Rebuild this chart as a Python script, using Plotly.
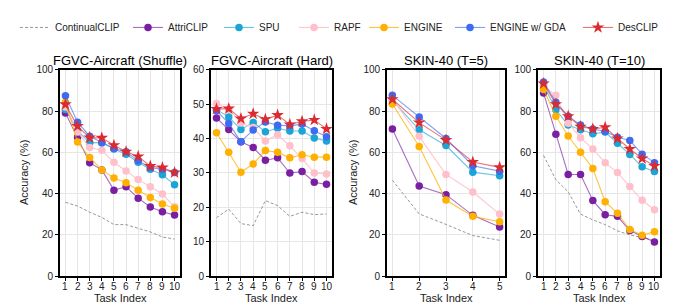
import plotly.graph_objects as go

# ---------------- data ----------------
tasks10 = [1, 2, 3, 4, 5, 6, 7, 8, 9, 10]
tasks5 = [1, 2, 3, 4, 5]

series_names = ["ContinualCLIP", "AttriCLIP", "SPU", "RAPF", "ENGINE", "ENGINE w/ GDA", "DesCLIP"]

# FGVC-Aircraft (Shuffle)
shuffle_continual = [35.8, 34.0, 31.0, 28.5, 25.0, 25.0, 23.2, 21.5, 19.0, 18.0]
shuffle_attri = [79.0, 67.3, 55.0, 51.5, 41.7, 43.3, 37.8, 33.5, 31.2, 29.6]
shuffle_spu = [80.8, 70.5, 64.6, 64.7, 61.6, 59.1, 55.2, 51.8, 49.1, 44.3]
shuffle_rapf = [82.0, 69.9, 62.3, 61.0, 55.2, 51.0, 46.8, 43.3, 39.8, 33.6]
shuffle_engine = [84.3, 65.0, 57.5, 51.5, 47.6, 45.3, 41.7, 38.1, 35.0, 32.9]
shuffle_gda = [87.4, 74.6, 67.8, 64.7, 61.9, 60.3, 56.0, 52.6, 51.8, 50.2]
shuffle_desclip = [83.2, 72.7, 67.1, 67.0, 63.4, 60.3, 58.0, 53.3, 52.6, 50.2]

# FGVC-Aircraft (Hard)
hard_continual = [17.0, 19.5, 15.3, 14.7, 22.0, 20.5, 17.4, 18.6, 17.9, 18.1]
hard_attri = [46.0, 42.6, 39.1, 37.4, 33.7, 34.4, 30.0, 30.4, 27.3, 26.7]
hard_spu = [48.4, 46.3, 42.6, 44.7, 42.0, 43.0, 42.2, 42.2, 40.2, 39.3]
hard_rapf = [50.2, 48.5, 44.5, 43.2, 39.3, 41.1, 37.9, 34.2, 30.0, 29.7]
hard_engine = [41.7, 36.0, 30.2, 32.6, 36.5, 36.0, 34.4, 35.3, 34.6, 34.6]
hard_gda = [48.1, 44.4, 39.1, 42.5, 44.8, 43.9, 43.7, 44.2, 42.3, 40.5]
hard_desclip = [48.6, 48.7, 45.8, 47.2, 45.6, 46.8, 44.1, 45.0, 45.4, 42.8]

# SKIN-40 (T=5)
skin5_continual = [46.5, 30.2, 25.1, 19.7, 17.4]
skin5_attri = [71.3, 43.7, 39.5, 29.5, 23.9]
skin5_spu = [85.3, 70.9, 63.3, 50.4, 48.7]
skin5_rapf = [86.0, 67.8, 49.3, 40.8, 30.1]
skin5_engine = [83.4, 62.8, 36.9, 29.0, 26.4]
skin5_gda = [87.6, 77.1, 66.7, 53.5, 50.9]
skin5_desclip = [85.7, 74.4, 65.9, 55.3, 52.7]

# SKIN-40 (T=10)
skin10_continual = [58.5, 46.7, 40.9, 30.1, 27.3, 25.0, 22.0, 20.0, 18.8, 17.2]
skin10_attri = [88.7, 68.7, 49.3, 49.3, 36.7, 29.8, 29.0, 22.1, 19.3, 16.6]
skin10_spu = [92.6, 80.6, 73.2, 70.9, 69.0, 69.8, 64.4, 59.0, 53.0, 50.7]
skin10_rapf = [92.0, 87.6, 74.1, 67.1, 61.6, 55.0, 50.2, 43.4, 36.8, 32.2]
skin10_engine = [90.4, 77.5, 67.9, 60.0, 52.2, 36.1, 30.5, 22.6, 19.9, 21.6]
skin10_gda = [94.1, 84.2, 77.5, 73.2, 71.3, 70.1, 67.3, 65.7, 59.1, 55.0]
skin10_desclip = [93.3, 83.3, 77.5, 72.4, 71.3, 72.1, 66.7, 61.6, 57.0, 53.4]

panel_titles = ["FGVC-Aircraft (Shuffle)", "FGVC-Aircraft (Hard)", "SKIN-40 (T=5)", "SKIN-40 (T=10)"]

# ---------------- styles ----------------
colors = {
    "ContinualCLIP": "#a0a0a0",
    "AttriCLIP": "#7b1fa2",
    "SPU": "#1aa5d6",
    "RAPF": "#ffc0cb",
    "ENGINE": "#ffb000",
    "ENGINE w/ GDA": "#3d6cf0",
    "DesCLIP": "#dc2b30",
}
line_colors = {
    "ContinualCLIP": "rgba(140,140,140,0.9)",
    "AttriCLIP": "rgba(123,31,162,0.65)",
    "SPU": "rgba(26,165,214,0.65)",
    "RAPF": "rgba(255,192,203,0.9)",
    "ENGINE": "rgba(255,176,0,0.75)",
    "ENGINE w/ GDA": "rgba(61,108,240,0.65)",
    "DesCLIP": "rgba(220,43,48,0.65)",
}
# text start (px) of each legend entry in the reference
legend_text_px = [56, 169, 260, 335, 405, 491, 619]

panels = [
    (tasks10, [shuffle_continual, shuffle_attri, shuffle_spu, shuffle_rapf, shuffle_engine, shuffle_gda, shuffle_desclip]),
    (tasks10, [hard_continual, hard_attri, hard_spu, hard_rapf, hard_engine, hard_gda, hard_desclip]),
    (tasks5, [skin5_continual, skin5_attri, skin5_spu, skin5_rapf, skin5_engine, skin5_gda, skin5_desclip]),
    (tasks10, [skin10_continual, skin10_attri, skin10_spu, skin10_rapf, skin10_engine, skin10_gda, skin10_desclip]),
]

W, H = 675, 305
x_px = [(52, 172), (203, 324), (379, 497), (530, 652)]
y_top, y_bot = 58, 273
ydom = [(H - y_bot) / H, (H - y_top) / H]

FONT = "Liberation Sans, Arial, Helvetica, sans-serif"

fig = go.Figure()

for pi, (xs, ys_list) in enumerate(panels):
    ax = "" if pi == 0 else str(pi + 1)
    for si, (name, ys) in enumerate(zip(series_names, ys_list)):
        if name == "ContinualCLIP":
            tr = go.Scatter(
                x=xs, y=ys, mode="lines", name=name,
                line=dict(color=line_colors[name], width=1, dash="3px,2px"),
            )
        else:
            sym = "star" if name == "DesCLIP" else "circle"
            size = 9.5 if name == "DesCLIP" else 7.5
            tr = go.Scatter(
                x=xs, y=ys, mode="lines+markers", name=name,
                line=dict(color=line_colors[name], width=1.1),
                marker=dict(color=colors[name], size=size, symbol=sym, line=dict(width=0)),
            )
        leg = "legend" if si == 0 else "legend" + str(si + 1)
        tr.update(xaxis="x" + ax, yaxis="y" + ax, showlegend=(pi == 0), legend=leg)
        fig.add_trace(tr)

axis_common = dict(
    showline=True, linecolor="black", linewidth=1.8, mirror=True,
    showgrid=True, gridcolor="#e6e6e6", gridwidth=1,
    ticks="outside", ticklen=3, tickwidth=1, tickcolor="black",
    tickfont=dict(size=10, color="#222", family=FONT),
    zeroline=False, fixedrange=True,
)

layout = dict()
annotations = []
for pi in range(4):
    ax = "" if pi == 0 else str(pi + 1)
    xs = panels[pi][0]
    n = len(xs)
    pad = (n - 1) * 0.05
    layout["xaxis" + ax] = dict(
        axis_common,
        domain=[x_px[pi][0] / W, x_px[pi][1] / W],
        anchor="y" + ax,
        range=[1 - pad, n + pad],
        tickmode="array", tickvals=xs, showticklabels=False,
    )
    # x tick labels placed just below the axis, positioned by the x data scale
    for v in xs:
        annotations.append(dict(
            text=str(v), x=v, xref="x" + ax, y=(H - 283.5) / H, yref="paper",
            xanchor="center", yanchor="middle", showarrow=False,
            font=dict(size=10, color="#222", family=FONT),
        ))
    if pi == 1:
        yr, ytv = [0, 60], [0, 10, 20, 30, 40, 50, 60]
    else:
        yr, ytv = [0, 100], [0, 20, 40, 60, 80, 100]
    layout["yaxis" + ax] = dict(
        axis_common,
        domain=ydom,
        anchor="x" + ax,
        range=yr,
        tickmode="array", tickvals=ytv,
    )

for si, tx in enumerate(legend_text_px):
    key = "legend" if si == 0 else "legend" + str(si + 1)
    layout[key] = dict(
        orientation="h", x=(tx - 49) / W, y=(H - 14) / H, xanchor="left", yanchor="middle",
        font=dict(size=10, color="#222", family=FONT),
        bgcolor="rgba(0,0,0,0)", itemwidth=30, borderwidth=0,
    )

for pi, t in enumerate(panel_titles):
    cx = (x_px[pi][0] + x_px[pi][1]) / 2 / W
    annotations.append(dict(
        text=t, x=cx, y=(H - 48) / H, xref="paper", yref="paper",
        xanchor="center", yanchor="middle", showarrow=False,
        font=dict(size=13, color="black", family=FONT),
    ))
    annotations.append(dict(
        text="Task Index", x=cx, y=(H - 296) / H, xref="paper", yref="paper",
        xanchor="center", yanchor="middle", showarrow=False,
        font=dict(size=11, color="#222", family=FONT),
    ))
for xp in (16, 345):
    annotations.append(dict(
        text="Accuracy (%)", x=xp / W, y=(H - (y_top + y_bot) / 2) / H,
        xref="paper", yref="paper", xanchor="center", yanchor="middle",
        textangle=-90, showarrow=False,
        font=dict(size=11, color="#222", family=FONT),
    ))

fig.update_layout(
    **layout,
    annotations=annotations,
    width=W, height=H,
    margin=dict(l=0, r=0, t=0, b=0),
    paper_bgcolor="white", plot_bgcolor="white",
    font=dict(family=FONT, color="#222"),
)

fig.write_html("out.html")
